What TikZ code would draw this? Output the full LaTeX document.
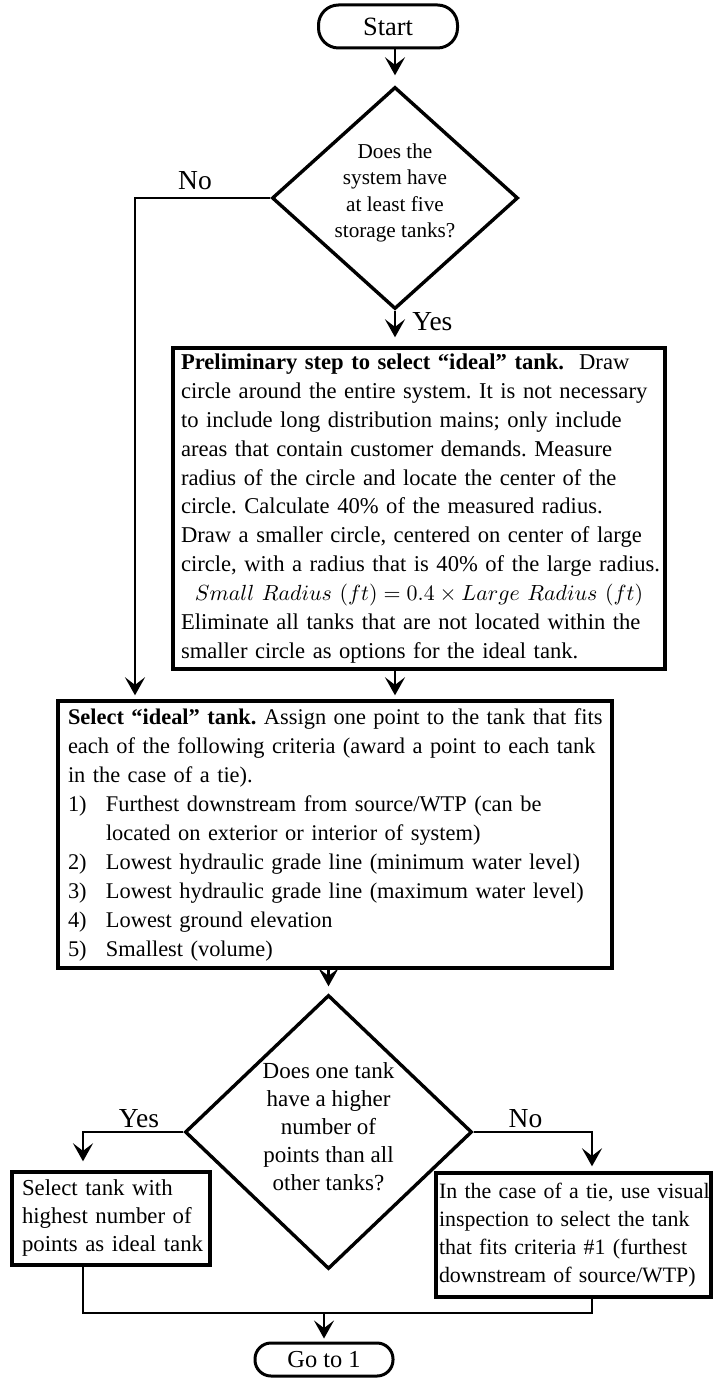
\documentclass[tikz,border=0pt]{standalone}
\usepackage{fontspec}
\setmainfont{Liberation Serif}
\usetikzlibrary{shapes.geometric,arrows.meta}
\newcommand\myline[1]{\mbox{#1}\\}
\newcommand\myitem[2]{\mbox{\makebox[19pt][l]{#1}#2}}
\frenchspacing
\begin{document}
\begin{tikzpicture}[x=0.5pt,y=-0.5pt,
  box/.style={draw, line width=1.7pt, inner ysep=0pt, align=left},
  term/.style={draw, line width=1.5pt, inner sep=0pt},
  dec/.style={draw, diamond, line width=1.7pt, inner sep=0pt},
  conn/.style={line width=1.35pt},
  arr/.style={conn, -{Stealth[length=9pt,width=10pt,inset=3.8pt]}},
  lab/.style={font=\fontsize{13.75}{16}\selectfont, inner sep=0pt, anchor=base}]
\useasboundingbox (0,0) rectangle (716,1379);

\node[term, rounded corners=10pt, minimum width=69.5pt, minimum height=21.5pt,
      font=\fontsize{13.2}{15}\selectfont] (start) at (388,26.5) {Start};

\node[dec, minimum width=123pt, minimum height=111pt] (d1) at (395,198)
  {\smash{\makebox[0pt]{\parbox[c]{110pt}{\centering\fontsize{10.6}{13.15}\selectfont
   Does the\\ system have\\ at least five\\ storage tanks?}}}};

\node[box, minimum width=246pt, minimum height=160.5pt, text width=238pt, inner xsep=4pt,
      font=\fontsize{11.3}{14.45}\selectfont] (pre) at (419,508.5) {%
\myline{\textbf{Preliminary step to select “ideal” tank.}\ \ Draw}
\myline{circle around the entire system. It is not necessary}
\myline{to include long distribution mains; only include}
\myline{areas that contain customer demands. Measure}
\myline{radius of the circle and locate the center of the}
\myline{circle. Calculate 40\% of the measured radius.}
\myline{Draw a smaller circle, centered on center of large}
\myline{circle, with a radius that is 40\% of the large radius.}
\makebox[\linewidth]{$Small\ Radius\ (ft) = 0.4 \times Large\ Radius\ (ft)$}\\
\myline{Eliminate all tanks that are not located within the}
\mbox{smaller circle as options for the ideal tank.}};

\node[box, minimum width=277pt, minimum height=133.5pt, text width=267pt, inner xsep=5pt,
      font=\fontsize{11.2}{14.5}\selectfont] (sel) at (335,834.5) {%
\myline{\textbf{Select “ideal” tank.} Assign one point to the tank that fits}
\myline{each of the following criteria (award a point to each tank}
\myline{in the case of a tie).}
\myitem{1)}{Furthest downstream from source/WTP (can be}\\
\myitem{}{located on exterior or interior of system)}\\
\myitem{2)}{Lowest hydraulic grade line (minimum water level)}\\
\myitem{3)}{Lowest hydraulic grade line (maximum water level)}\\
\myitem{4)}{Lowest ground elevation}\\
\myitem{5)}{Smallest (volume)}};

\node[dec, minimum width=143.5pt, minimum height=137pt] (d2) at (328.5,1132)
  {\smash{\makebox[0pt]{\parbox[c]{120pt}{\centering\fontsize{11.5}{14}\selectfont
   Does one tank\\ have a higher\\ number of\\ points than all\\ other tanks?}}}};

\node[box, minimum width=99pt, minimum height=46.5pt, text width=89pt, inner xsep=5pt,
      font=\fontsize{11.4}{14}\selectfont] (lb) at (111,1218.5) {%
\myline{Select tank with}
\myline{highest number of}
\mbox{points as ideal tank}};

\node[box, minimum width=137.5pt, minimum height=62pt, text width=134.5pt, inner xsep=1.5pt,
      font=\fontsize{10.95}{14}\selectfont] (rb) at (573.5,1235) {%
\myline{In the case of a tie, use visual}
\myline{inspection to select the tank}
\myline{that fits criteria \#1 (furthest}
\mbox{downstream of source/WTP)}};

\node[term, rounded corners=8pt, minimum width=69pt, minimum height=16.5pt,
      font=\fontsize{12.2}{14}\selectfont] (go) at (324,1359.5) {Go to 1};

% labels
\node[lab] (no1) at (195,190) {No};
\node[lab, anchor=base west] (yes1) at (412,331) {Yes};
\node[lab] (yes2) at (139,1127) {Yes};
\node[lab] (no2) at (525.5,1127) {No};

% connectors
\coordinate (nocorner) at (135,198);
\coordinate (yc) at (83,1132);
\coordinate (nc) at (592,1132);
\coordinate (m) at (324,1313);

\draw[arr, shorten >=5pt] (start.south -| d1.north) -- (d1.north);
\draw[arr, shorten >=4.5pt] (d1.south) -- (d1.south |- pre.north);
\draw[arr, shorten >=2pt] (d1.west) -- (nocorner) -- (nocorner |- sel.north);
\draw[arr, shorten >=2pt] (pre.south -| d1.south) -- (d1.south |- sel.north);
\draw[arr, shorten >=3.5pt] (sel.south -| d2.north) -- (d2.north);
\draw[arr, shorten >=4.5pt] (d2.west) -- (yc) -- (yc |- lb.north);
\draw[arr, shorten >=2.5pt] (d2.east) -- (nc) -- (nc |- rb.north);
\draw[conn] (yc |- lb.south) -- (yc |- m) -- (nc |- m) -- (nc |- rb.south);
\draw[arr, shorten >=1.5pt] (m) -- (go.north);
\end{tikzpicture}
\end{document}
